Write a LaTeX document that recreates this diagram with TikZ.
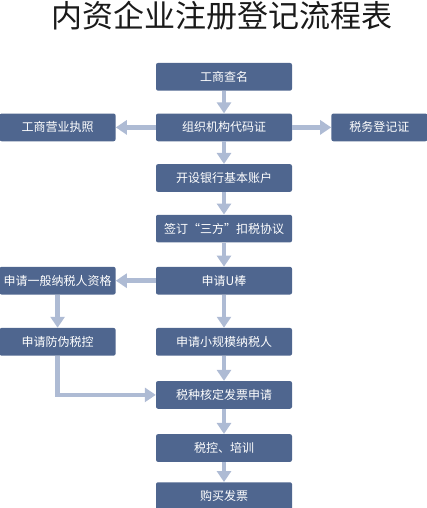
\documentclass[tikz,border=0pt]{standalone}
\usepackage{fontspec}
\newfontfamily\cjk{Noto Sans CJK SC}
\usetikzlibrary{arrows.meta,positioning}
\definecolor{boxblue}{HTML}{4F668F}
\definecolor{arrowgray}{HTML}{AEBBD4}
\definecolor{titlegray}{HTML}{1A1A1A}
\tikzset{
  stepbox/.style={rectangle,rounded corners=2pt,fill=boxblue,text=white,inner sep=0pt,
    minimum width=136pt,minimum height=27.7pt,align=center,font=\cjk\fontsize{12}{14}\selectfont},
  sidebox/.style={stepbox,minimum width=116pt},
  flow/.style={-{Triangle[length=11pt,width=14pt]},line width=4.5pt,draw=arrowgray},
  heading/.style={text=titlegray,inner sep=0pt,font=\cjk\fontsize{31}{34}\selectfont}
}
\begin{document}
\begin{tikzpicture}[x=1pt,y=-1pt]
\useasboundingbox (0,0) rectangle (427,508);
\node[heading] (title) at (222,16) {内资企业注册登记流程表};
\node[stepbox] (name) at (224,76.8) {工商查名};
\node[stepbox,below=22.5pt of name] (org) {组织机构代码证};
\node[sidebox,left=40pt of org] (license) {工商营业执照};
\node[stepbox,minimum width=96pt,right=39pt of org] (taxreg) {税务登记证};
\node[stepbox,below=22.5pt of org] (bank) {开设银行基本账户};
\node[stepbox,below=22.5pt of bank] (treaty) {签订“三方”扣税协议};
\node[stepbox,below=24pt of treaty] (ukey) {申请U棒};
\node[sidebox,left=40pt of ukey] (general) {申请一般纳税人资格};
\node[stepbox,below=33pt of ukey] (small) {申请小规模纳税人};
\node[sidebox,below=33pt of general] (antifake) {申请防伪税控};
\node[stepbox,below=25pt of small] (verify) {税种核定发票申请};
\node[stepbox,below=25pt of verify] (train) {税控、培训};
\node[stepbox,below=20pt of train] (buy) {购买发票};
\draw[flow] (name) -- (org);
\draw[flow] (org) -- (license);
\draw[flow] (org) -- (taxreg);
\draw[flow] (org) -- (bank);
\draw[flow] (bank) -- (treaty);
\draw[flow] (treaty) -- (ukey);
\draw[flow] (ukey) -- (general);
\draw[flow] (ukey) -- (small);
\draw[flow] (general) -- (antifake);
\draw[flow] (small) -- (verify);
\draw[flow] (antifake.south) |- (verify.west);
\draw[flow] (verify) -- (train);
\draw[flow] (train) -- (buy);
\end{tikzpicture}
\end{document}
